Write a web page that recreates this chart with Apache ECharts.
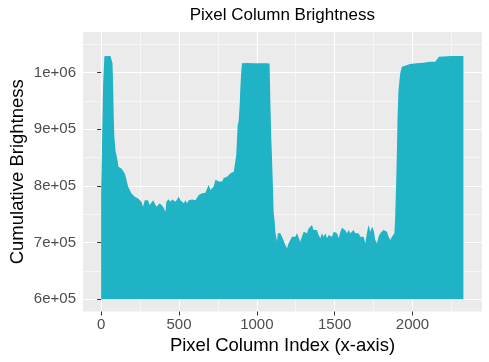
<!DOCTYPE html>
<html>
<head>
<meta charset="utf-8">
<script src="https://cdn.jsdelivr.net/npm/echarts@6/dist/echarts.min.js"></script>
<style>
html,body{margin:0;padding:0;background:#fff;}
#chart{width:489px;height:362px;}
</style>
</head>
<body>
<div id="chart"></div>
<script>
// Pixel column index (x) and cumulative brightness (y)
const columnIndex = [
  0,7,13,21,30,45,60,66,73,77,81,85,92,98,105,111,120,130,141,152,
  163,173,184,194,205,216,227,237,248,259,269,280,291,301,312,323,334,344,355,366,
  377,387,398,408,413,419,434,445,456,467,478,488,499,509,520,531,541,552,563,574,
  584,595,606,617,627,638,649,659,670,681,691,702,713,723,734,745,756,766,777,788,
  798,809,820,831,841,852,862,868,877,883,890,894,900,905,940,980,1020,1060,1082,1087,
  1093,1097,1104,1108,1115,1119,1125,1130,1135,1144,1151,1162,1172,1183,1194,1204,1215,1226,1237,1247,
  1258,1269,1279,1290,1301,1311,1322,1333,1344,1354,1365,1376,1386,1397,1408,1418,1429,1440,1451,1461,
  1472,1483,1494,1504,1515,1526,1536,1547,1558,1568,1579,1590,1600,1611,1622,1632,1643,1654,1665,1675,
  1686,1697,1707,1718,1729,1740,1750,1761,1772,1782,1793,1804,1814,1825,1836,1847,1857,1868,1879,1884,
  1889,1895,1900,1904,1910,1921,1932,1942,1985,2028,2071,2114,2146,2157,2170,2178,2250,2327
];
const brightness = [
  787000,890000,981000,1029000,1029500,1029500,1029500,1028000,1016600,981000,922000,887000,863000,860000,846000,834000,831000,831000,831000,822000,
  811000,799000,793000,787000,790000,781000,784000,778000,781000,772000,763500,775000,772000,775000,766500,769500,775000,769500,763500,766500,
  769500,767000,763500,760600,754600,772000,776500,772000,776000,778000,772000,775000,781000,775000,778000,769500,775000,769500,775000,778000,
  776000,778000,775000,778000,784000,781000,787000,784000,788000,787000,802000,793000,796000,799000,811000,814000,808000,805000,808000,814000,
  811000,816500,819500,822400,819500,825000,828000,855000,908000,913500,943000,972000,1002000,1016600,1017000,1016500,1016800,1016500,1016000,949000,
  884000,855000,796000,754600,737000,719000,716500,702000,716500,713500,716500,710500,707700,696000,690000,698900,701700,710500,713500,710500,
  716500,713500,701700,710500,719300,722300,716500,725000,728000,731000,722300,719300,722300,713500,707700,716500,710500,716500,707700,713500,
  716500,710500,719300,722300,716500,707700,719000,726500,729500,722000,716500,722300,716500,719300,722300,716500,713500,716500,710500,707700,
  710500,699000,716500,731000,719300,728000,722300,704700,699000,710500,716500,719300,722300,725000,719300,710500,704700,710500,710500,716500,
  746000,805000,863000,922000,969000,999000,1010600,1013600,1015400,1016600,1017600,1019400,1019400,1022400,1028000,1029500,1029500,1029500
];
const areaBase = 600000;

const xTicks = [0, 500, 1000, 1500, 2000];
const xTickLabels = ['0', '500', '1000', '1500', '2000'];
const xMinorTicks = [250, 750, 1250, 1750, 2250];
const yTicks = [600000, 700000, 800000, 900000, 1000000];
const yTickLabels = ['6e+05', '7e+05', '8e+05', '9e+05', '1e+06'];
const yMinorTicks = [650000, 750000, 850000, 950000, 1050000];

const xRange = [-116.5, 2446.5];
const yRange = [578500, 1071800];

const FONT = '"Liberation Sans", Arial, Helvetica, sans-serif';
const chart = echarts.init(document.getElementById('chart'), null, {renderer: 'canvas'});

const labelFrom = (ticks, labels) => v => {
  const i = ticks.indexOf(v);
  return i >= 0 ? labels[i] : '';
};

const majorGrid = {show: true, lineStyle: {color: '#FFFFFF', width: 1.1}};
const minorGrid = {show: true, lineStyle: {color: '#FFFFFF', width: 0.55}};

chart.setOption({
  animation: false,
  backgroundColor: '#FFFFFF',
  title: {
    text: 'Pixel Column Brightness',
    left: 282.3,
    textAlign: 'center',
    top: 7,
    padding: 0,
    textStyle: {fontFamily: FONT, fontSize: 17, fontWeight: 'normal', color: '#000000'}
  },
  grid: {
    left: 83, right: 7, top: 32, bottom: 50.5,
    containLabel: false,
    outerBoundsMode: 'none',
    show: true, backgroundColor: '#EBEBEB', borderWidth: 0
  },
  xAxis: [
    {
      type: 'value', min: xRange[0], max: xRange[1], position: 'bottom',
      name: 'Pixel Column Index (x-axis)', nameLocation: 'middle', nameGap: 25,
      nameMoveOverlap: false,
      nameTextStyle: {fontFamily: FONT, fontSize: 18.5, color: '#000000'},
      axisLine: {show: false},
      axisTick: {show: true, length: 4, customValues: xTicks, lineStyle: {color: '#333333', width: 1}},
      axisLabel: {show: true, customValues: xTicks, formatter: labelFrom(xTicks, xTickLabels),
        margin: 6, fontFamily: FONT, fontSize: 15, color: '#4D4D4D'},
      splitLine: majorGrid
    },
    {
      type: 'value', min: xRange[0], max: xRange[1], position: 'top',
      axisLine: {show: false},
      axisTick: {show: false, customValues: xMinorTicks},
      axisLabel: {show: false, customValues: xMinorTicks},
      splitLine: minorGrid
    }
  ],
  yAxis: [
    {
      type: 'value', min: yRange[0], max: yRange[1], position: 'left',
      name: 'Cumulative Brightness', nameLocation: 'middle', nameGap: 56,
      nameMoveOverlap: false,
      nameTextStyle: {fontFamily: FONT, fontSize: 18.5, color: '#000000'},
      axisLine: {show: false},
      axisTick: {show: true, length: 4, customValues: yTicks, lineStyle: {color: '#333333', width: 1}},
      axisLabel: {show: true, customValues: yTicks, formatter: labelFrom(yTicks, yTickLabels),
        margin: 7, fontFamily: FONT, fontSize: 15, color: '#4D4D4D'},
      splitLine: majorGrid
    },
    {
      type: 'value', min: yRange[0], max: yRange[1], position: 'right',
      axisLine: {show: false},
      axisTick: {show: false, customValues: yMinorTicks},
      axisLabel: {show: false, customValues: yMinorTicks},
      splitLine: minorGrid
    }
  ],
  series: [{
    type: 'line',
    xAxisIndex: 0, yAxisIndex: 0,
    data: columnIndex.map((x, i) => [x, brightness[i]]),
    smooth: false,
    showSymbol: false,
    symbol: 'none',
    lineStyle: {width: 0, opacity: 0},
    areaStyle: {color: '#20B2C5', opacity: 1, origin: areaBase},
    silent: true
  }]
});
</script>
</body>
</html>
